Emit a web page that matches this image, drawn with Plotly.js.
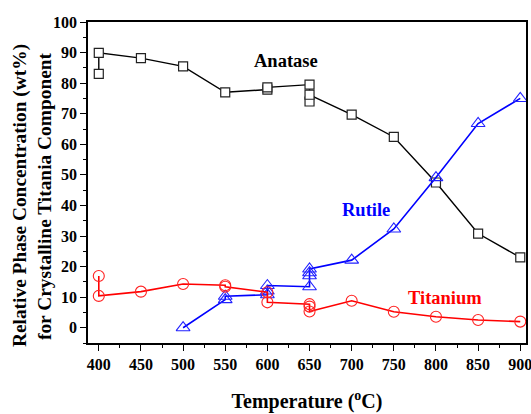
<!DOCTYPE html>
<html>
<head>
<meta charset="utf-8">
<script src="https://cdn.plot.ly/plotly-3.0.1.min.js"></script>
</head>
<body style="margin:0;background:#fff">
<div id="chart" style="width:531px;height:414px"></div>
<script>
// Anatase (black squares)
const anataseT = [400, 400, 450, 500, 550, 600, 600, 650, 650, 650, 700, 750, 800, 850, 900];
const anataseV = [83.0, 89.9, 88.2, 85.5, 77.0, 77.9, 78.6, 79.5, 74.0, 76.2, 69.7, 62.4, 47.5, 30.8, 23.0];
// Rutile (blue triangles)
const rutileT = [500, 550, 550, 600, 600, 600, 650, 650, 650, 650, 700, 750, 800, 850, 900];
const rutileV = [0.0, 9.2, 10.3, 10.8, 12.0, 13.8, 13.4, 17.0, 18.0, 19.2, 22.1, 32.3, 49.1, 66.8, 75.0];
// Titanium (red circles)
const titaniumT = [400, 400, 450, 500, 550, 550, 600, 600, 650, 650, 650, 700, 750, 800, 850, 900];
const titaniumV = [16.9, 10.4, 11.8, 14.3, 13.9, 13.4, 11.6, 8.3, 7.7, 6.9, 5.3, 8.8, 5.2, 3.6, 2.5, 2.0];

const xTicks = [400, 450, 500, 550, 600, 650, 700, 750, 800, 850, 900];
const yTicks = [0, 10, 20, 30, 40, 50, 60, 70, 80, 90, 100];

function fnt(size, color) {
  return {family: 'Liberation Serif', size: size, weight: 'bold', color: color};
}

const traces = [
  {x: anataseT, y: anataseV, mode: 'lines+markers', name: 'Anatase',
   line: {color: '#000000', width: 1.4},
   marker: {symbol: 'square', size: 9, color: '#ffffff', line: {color: '#222222', width: 1.2}}},
  {x: rutileT, y: rutileV, mode: 'lines+markers', name: 'Rutile',
   line: {color: '#0000ff', width: 1.6},
   marker: {symbol: 'triangle-up', size: 12, color: 'rgba(255,255,255,0)', line: {color: '#2222ff', width: 1.1}}},
  {x: titaniumT, y: titaniumV, mode: 'lines+markers', name: 'Titanium',
   line: {color: '#ff0000', width: 1.6},
   marker: {symbol: 'circle', size: 11, color: 'rgba(255,255,255,0)', line: {color: '#ff2222', width: 1.1}}}
];

const layout = {
  width: 531, height: 414,
  margin: {l: 88, r: 5, t: 22, b: 71},
  paper_bgcolor: '#ffffff', plot_bgcolor: '#ffffff',
  showlegend: false,
  xaxis: {
    range: [387.2, 906.8], tickvals: xTicks, ticktext: xTicks.map(String),
    ticks: 'outside', ticklen: 6, tickwidth: 1.2, tickcolor: '#000',
    ticklabeloverflow: 'allow',
    minor: {dtick: 25, tick0: 0, ticks: 'outside', ticklen: 3.5, tickwidth: 1.2, tickcolor: '#000'},
    showline: true, linecolor: '#000', linewidth: 1.5, mirror: true,
    showgrid: false, zeroline: false,
    tickfont: fnt(16, '#000'),
    title: {text: 'Temperature (<sup>o</sup>C)', font: fnt(20, '#000'), standoff: 22}
  },
  yaxis: {
    range: [-5, 100], tickvals: yTicks, ticktext: yTicks.map(String),
    ticks: 'outside', ticklen: 6, tickwidth: 1.2, tickcolor: '#000',
    minor: {dtick: 5, tick0: 0, ticks: 'outside', ticklen: 3.5, tickwidth: 1.2, tickcolor: '#000'},
    showline: true, linecolor: '#000', linewidth: 1.5, mirror: true,
    showgrid: false, zeroline: false,
    tickfont: fnt(16, '#000')
  },
  annotations: [
    {x: 622, y: 87.3, xref: 'x', yref: 'y', text: 'Anatase', showarrow: false, font: fnt(18.5, '#000')},
    {x: 717, y: 38.5, xref: 'x', yref: 'y', text: 'Rutile', showarrow: false, font: fnt(18.5, '#0000ff')},
    {x: 810.6, y: 9.8, xref: 'x', yref: 'y', text: 'Titanium', showarrow: false, font: fnt(18.5, '#ff0000')},
    {x: -0.155, y: 0.458, xref: 'paper', yref: 'paper', text: 'Relative Phase Concentration (wt%)',
     textangle: -90, showarrow: false, xanchor: 'center', yanchor: 'middle', font: fnt(19.4, '#000')},
    {x: -0.098, y: 0.458, xref: 'paper', yref: 'paper', text: 'for Crystalline Titania Component',
     textangle: -90, showarrow: false, xanchor: 'center', yanchor: 'middle', font: fnt(19.4, '#000')}
  ]
};

Plotly.newPlot('chart', traces, layout, {displayModeBar: false});
</script>
</body>
</html>
